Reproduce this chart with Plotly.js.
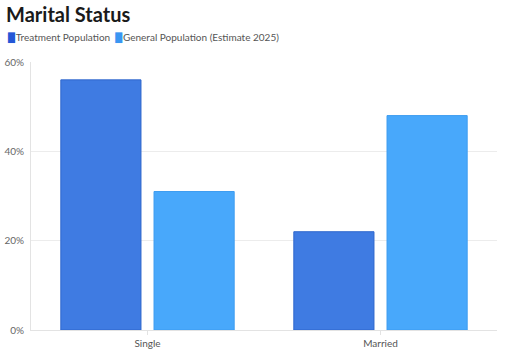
<!DOCTYPE html>
<html><head><meta charset="utf-8">
<script src="https://cdn.plot.ly/plotly-3.0.1.min.js"></script>
<style>html,body{margin:0;padding:0;background:#fff}#chart{width:507px;height:354px}</style>
</head><body><div id="chart"></div>
<script>
const categories = ["Single", "Married"];
const treatmentValues = [56, 22];
const generalValues = [31, 48];
const seriesNames = ["Treatment Population", "General Population (Estimate 2025)"];
const seriesColors = ["#3f7be2", "#48a8fb"];
const legendColors = ["#2457d6", "#3a96f2"];
const yTickVals = [0, 20, 40, 60];
const yTickText = ["0%", "20%", "40%", "60%"];

const traces = [
  {type: "bar", name: seriesNames[0], x: categories, y: treatmentValues,
   marker: {color: seriesColors[0], line: {color: "#2f67cc", width: 1}}},
  {type: "bar", name: seriesNames[1], x: categories, y: generalValues,
   marker: {color: seriesColors[1], line: {color: "#3d9cf0", width: 1}}}
];
const legendText = seriesNames.map((n, i) =>
  `<span style="color:${legendColors[i]};font-family:'DejaVu Sans';font-size:9px">█</span><span style="font-size:3px"> </span>${n}`).join("  ");
const layout = {
  width: 507, height: 354,
  margin: {l: 31, r: 10, t: 62, b: 24},
  paper_bgcolor: "#fff", plot_bgcolor: "#fff",
  font: {family: "Lato, 'Open Sans', sans-serif", color: "#555", size: 10},
  title: {text: "<b>Marital Status</b>", x: 0.012, xanchor: "left", y: 0.958, yanchor: "middle",
          font: {family: "Lato, 'Open Sans', sans-serif", size: 20, color: "#1a1a1a"}},
  showlegend: false,
  annotations: [{text: legendText, xref: "paper", yref: "paper", x: -0.056, xanchor: "left",
                 y: 1.09, yanchor: "middle", showarrow: false, font: {size: 10, color: "#555"}}],
  bargap: 0.2, bargroupgap: 0.14,
  xaxis: {showgrid: false, showline: true, linecolor: "#e3e3e3", ticks: "outside", ticklen: 4,
          tickcolor: "#e3e3e3", tickfont: {size: 10, color: "#555"}},
  yaxis: {range: [0, 60], tickvals: yTickVals, ticktext: yTickText, showgrid: true, gridcolor: "#ececec",
          showline: true, linecolor: "#e3e3e3", zeroline: false, ticks: "", ticklabelstandoff: 4,
          tickfont: {size: 10, color: "#666"}}
};
Plotly.newPlot("chart", traces, layout, {displayModeBar: false, staticPlot: true});
</script></body></html>
